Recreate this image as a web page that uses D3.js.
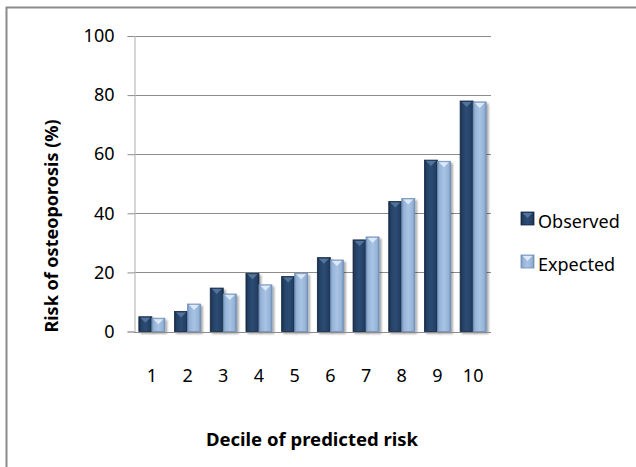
<!DOCTYPE html>
<html>
<head>
<meta charset="utf-8">
<script src="https://cdnjs.cloudflare.com/ajax/libs/d3/7.8.5/d3.min.js"></script>
<style>
  html, body { margin: 0; padding: 0; background: #fff; }
  svg { display: block; }
  text { font-family: "Noto Sans", "Open Sans", sans-serif; fill: #000; }
</style>
</head>
<body>
<svg id="chart" width="636" height="467"></svg>
<script>
// Deciles of predicted risk and the risk of osteoporosis (%) per decile
const deciles = ["1", "2", "3", "4", "5", "6", "7", "8", "9", "10"];
const seriesNames = ["Observed", "Expected"];
const observed = [5.0, 6.8, 14.7, 19.7, 18.6, 25.0, 31.0, 44.0, 58.0, 78.0];
const expected = [4.5, 9.3, 12.7, 15.8, 19.7, 24.2, 32.0, 45.0, 57.6, 77.7];
const yTicks = [0, 20, 40, 60, 80, 100];

const values = { Observed: observed, Expected: expected };
const palette = {
  Observed: { mid: "#243f63", edge: "#152a44", light: "#2d4c74", cap: "#587aa3" },
  Expected: { mid: "#95b3d7", edge: "#7190b6", light: "#a8c3e3", cap: "#e6f0fb" }
};

const svg = d3.select("#chart");

// outer chart frame
svg.append("rect")
  .attr("x", 6.5).attr("y", 7.5)
  .attr("width", 700).attr("height", 600)
  .attr("fill", "none").attr("stroke", "#8a8a8a").attr("stroke-width", 2);

const plot = { left: 134, right: 491, top: 36, bottom: 331.5 };

const x = d3.scaleBand().domain(deciles).range([plot.left, plot.right]).padding(0);
const groupW = 26;
const x1 = d3.scaleBand().domain(seriesNames)
  .range([(x.bandwidth() - groupW) / 2, (x.bandwidth() + groupW) / 2]).padding(0);
const y = d3.scaleLinear().domain([0, 100]).range([plot.bottom, plot.top]);

// gradients for the bevelled bar look
const defs = svg.append("defs");
seriesNames.forEach(s => {
  const c = palette[s];
  const g = defs.append("linearGradient").attr("id", "grad-" + s)
    .attr("x1", "0").attr("x2", "1").attr("y1", "0").attr("y2", "0");
  g.append("stop").attr("offset", "0").attr("stop-color", c.edge);
  g.append("stop").attr("offset", "0.15").attr("stop-color", c.mid);
  g.append("stop").attr("offset", "0.5").attr("stop-color", c.light);
  g.append("stop").attr("offset", "0.85").attr("stop-color", c.mid);
  g.append("stop").attr("offset", "1").attr("stop-color", c.edge);
});
const shadow = defs.append("filter").attr("id", "shadow")
  .attr("x", "-30%").attr("y", "-10%").attr("width", "160%").attr("height", "130%");
shadow.append("feGaussianBlur").attr("in", "SourceAlpha").attr("stdDeviation", 1.2);
shadow.append("feOffset").attr("dx", 1.5).attr("dy", 1.5).attr("result", "ob");
shadow.append("feComponentTransfer").append("feFuncA").attr("type", "linear").attr("slope", 0.35);
const merge = shadow.append("feMerge");
merge.append("feMergeNode");
merge.append("feMergeNode").attr("in", "SourceGraphic");

// horizontal gridlines
svg.append("g")
  .selectAll("line").data(yTicks.filter(t => t > 0)).join("line")
  .attr("x1", plot.left).attr("x2", plot.right)
  .attr("y1", d => Math.round(y(d)) + 0.5).attr("y2", d => Math.round(y(d)) + 0.5)
  .attr("stroke", "#8c8c8c").attr("stroke-width", 1.2);

// y axis
const yAxis = svg.append("g")
  .attr("transform", `translate(${plot.left + 0.5},0)`)
  .call(d3.axisLeft(y).tickValues(yTicks).tickSize(7).tickPadding(13));
yAxis.select(".domain").attr("stroke", "#bcbcbc").attr("stroke-width", 1.2);
yAxis.selectAll(".tick line").attr("stroke", "#8c8c8c");
yAxis.selectAll(".tick text").attr("font-size", 18).style("font-family", '"Noto Sans", sans-serif');

// bars
const groups = svg.append("g").selectAll("g").data(deciles).join("g")
  .attr("transform", d => `translate(${x(d)},0)`);

seriesNames.forEach(s => {
  const c = palette[s];
  const bw = x1.bandwidth();
  groups.append("rect")
    .attr("x", x1(s))
    .attr("y", (d, i) => y(values[s][i]))
    .attr("width", bw)
    .attr("height", (d, i) => y(0) - y(values[s][i]))
    .attr("fill", `url(#grad-${s})`)
    .attr("stroke", c.edge).attr("stroke-width", 0.8)
    .attr("filter", "url(#shadow)");
  // bevel on top of each bar
  groups.append("path")
    .attr("d", (d, i) => {
      const x0 = x1(s), top = y(values[s][i]);
      return `M${x0 + 1.5},${top + 1} L${x0 + bw - 1.5},${top + 1} L${x0 + bw / 2},${top + 6} Z`;
    })
    .attr("fill", c.cap).attr("opacity", 0.85);
});

// x baseline
svg.append("line")
  .attr("x1", plot.left).attr("x2", plot.right)
  .attr("y1", Math.round(y(0)) + 0.5).attr("y2", Math.round(y(0)) + 0.5)
  .attr("stroke", "#8c8c8c").attr("stroke-width", 1.2);

// x tick labels
svg.append("g").selectAll("text").data(deciles).join("text")
  .attr("x", d => x(d) + x.bandwidth() / 2)
  .attr("y", 382)
  .attr("text-anchor", "middle")
  .attr("font-size", 18)
  .text(d => d);

// axis titles
svg.append("text")
  .attr("x", 312).attr("y", 446)
  .attr("text-anchor", "middle")
  .attr("font-size", 18.5).attr("font-weight", "bold")
  .text("Decile of predicted risk");

svg.append("text")
  .attr("transform", "translate(58,226) rotate(-90)")
  .attr("text-anchor", "middle")
  .attr("font-size", 18).attr("font-weight", "bold")
  .text("Risk of osteoporosis (%)");

// legend
const legend = svg.append("g").selectAll("g").data(seriesNames).join("g")
  .attr("transform", (d, i) => `translate(521,${212 + i * 43})`);
legend.append("rect")
  .attr("width", 13).attr("height", 13)
  .attr("fill", d => `url(#grad-${d})`)
  .attr("stroke", d => palette[d].edge).attr("stroke-width", 0.8);
legend.append("path")
  .attr("d", "M1.5,1 L11.5,1 L6.5,6 Z")
  .attr("fill", d => palette[d].cap).attr("opacity", 0.85);
legend.append("text")
  .attr("x", 17).attr("y", 16)
  .attr("font-size", 18)
  .text(d => d);
</script>
</body>
</html>
